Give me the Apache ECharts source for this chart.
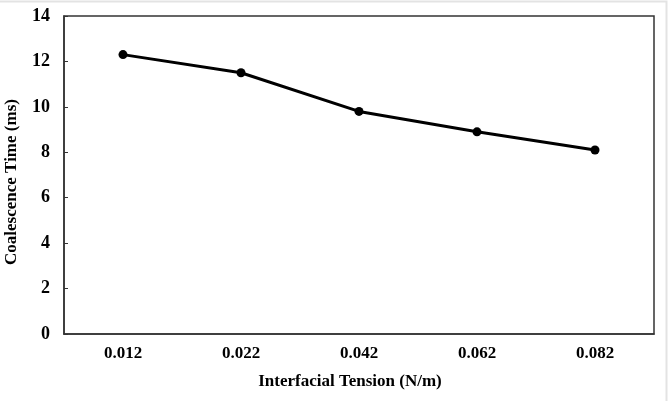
<!DOCTYPE html>
<html><head><meta charset="utf-8">
<script src="https://cdn.jsdelivr.net/npm/echarts@6/dist/echarts.min.js"></script>
<style>html,body{margin:0;padding:0;background:#fff}#c{width:669px;height:401px}</style>
</head><body><div id="c"></div>
<script>
const categories = ['0.012', '0.022', '0.042', '0.062', '0.082'];
const coalescenceTime = [12.3, 11.5, 9.8, 8.9, 8.1];
const xTitle = 'Interfacial Tension (N/m)';
const yTitle = 'Coalescence Time (ms)';

const font = 'Liberation Serif';
const chart = echarts.init(document.getElementById('c'), null, {renderer: 'canvas'});
chart.setOption({
  animation: false,
  backgroundColor: '#fff',
  graphic: [{
    type: 'rect', shape: {x: -1, y: 1.5, width: 667.5, height: 410},
    style: {fill: 'none', stroke: '#e3e3e3', lineWidth: 2}, silent: true
  }],
  grid: {left: 64, right: 15, top: 16, bottom: 67, containLabel: false, outerBoundsMode: 'none',
    show: true, borderColor: '#333', borderWidth: 1.5, backgroundColor: 'transparent'},
  xAxis: {
    type: 'category', data: categories, boundaryGap: true,
    name: xTitle, nameLocation: 'middle', nameGap: 39,
    nameTextStyle: {fontFamily: font, fontWeight: 'bold', fontSize: 17, color: '#000', padding: [0, 18, 0, 0]},
    axisLine: {lineStyle: {color: '#333', width: 1.5}},
    axisTick: {inside: true, alignWithLabel: true, length: 4, lineStyle: {color: '#333'}},
    axisLabel: {fontFamily: font, fontWeight: 'bold', fontSize: 17, color: '#000', margin: 11},
    splitLine: {show: false}
  },
  yAxis: {
    type: 'value', min: 0, max: 14, interval: 2,
    name: yTitle, nameLocation: 'middle', nameGap: 44, nameRotate: 90,
    nameTextStyle: {fontFamily: font, fontWeight: 'bold', fontSize: 17, color: '#000', padding: [0, 14, 0, 0]},
    axisLine: {show: true, lineStyle: {color: '#333', width: 1.5}},
    axisTick: {show: true, inside: true, length: 4, lineStyle: {color: '#333'}},
    axisLabel: {fontFamily: font, fontWeight: 'bold', fontSize: 18, color: '#000', margin: 14},
    splitLine: {show: false}
  },
  series: [{
    type: 'line', data: coalescenceTime,
    symbol: 'circle', symbolSize: 9,
    lineStyle: {color: '#000', width: 3},
    itemStyle: {color: '#000'}
  }]
});
</script></body></html>
